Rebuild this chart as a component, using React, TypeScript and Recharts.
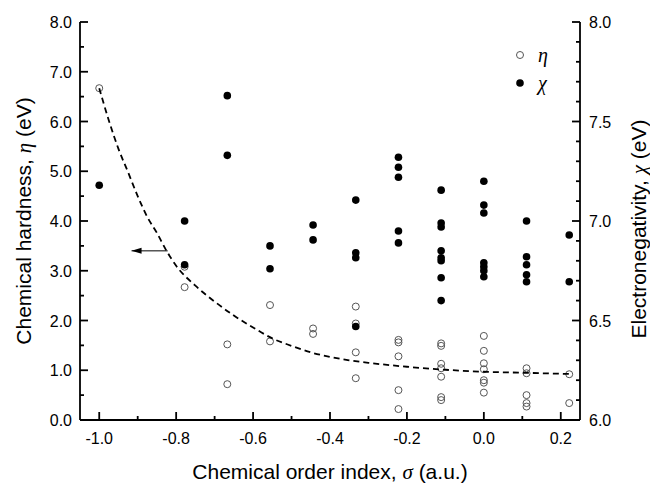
import React from "react";
import { ScatterChart, Scatter, XAxis, YAxis, ReferenceLine, ReferenceDot, Label } from "recharts";

// ---- data ----
const etaSigma = [
  -1.0,
  -0.778, -0.778,
  -0.667, -0.667,
  -0.556, -0.556,
  -0.444, -0.444,
  -0.333, -0.333, -0.333, -0.333,
  -0.222, -0.222, -0.222, -0.222, -0.222,
  -0.111, -0.111, -0.111, -0.111, -0.111, -0.111, -0.111,
  0.0, 0.0, 0.0, 0.0, 0.0, 0.0, 0.0,
  0.111, 0.111, 0.111, 0.111, 0.111,
  0.222, 0.222,
];
const etaValues = [
  6.67,
  2.67, 3.08,
  1.52, 0.72,
  2.31, 1.58,
  1.84, 1.73,
  2.28, 1.94, 1.36, 0.84,
  1.61, 1.56, 1.28, 0.6, 0.22,
  1.54, 1.49, 1.13, 1.04, 0.87, 0.46, 0.4,
  1.69, 1.39, 1.14, 1.02, 0.8, 0.75, 0.55,
  1.04, 0.94, 0.5, 0.34, 0.27,
  0.92, 0.34,
];

const chiSigma = [
  -1.0,
  -0.778, -0.778,
  -0.667, -0.667,
  -0.556, -0.556,
  -0.444, -0.444,
  -0.333, -0.333, -0.333, -0.333,
  -0.222, -0.222, -0.222, -0.222, -0.222,
  -0.111, -0.111, -0.111, -0.111, -0.111, -0.111, -0.111, -0.111,
  0.0, 0.0, 0.0, 0.0, 0.0, 0.0, 0.0,
  0.111, 0.111, 0.111, 0.111, 0.111,
  0.222, 0.222,
];
const chiValues = [
  7.18,
  7.0, 6.78,
  7.63, 7.33,
  6.875, 6.76,
  6.98, 6.905,
  7.105, 6.84, 6.815, 6.47,
  7.32, 7.27, 7.22, 6.95, 6.89,
  7.155, 6.99, 6.97, 6.85, 6.815, 6.8, 6.715, 6.6,
  7.2, 7.08, 7.04, 6.79, 6.77, 6.75, 6.72,
  7.0, 6.82, 6.78, 6.73, 6.695,
  6.93, 6.695,
];

const fitSigma = [
  -1.0, -0.975, -0.95, -0.925, -0.9, -0.875, -0.85, -0.825, -0.8, -0.75, -0.7, -0.65,
  -0.6, -0.55, -0.5, -0.45, -0.4, -0.35, -0.3, -0.2, -0.1, 0.0, 0.1, 0.222,
];
const fitEta = [
  6.67, 6.02, 5.45, 4.98, 4.5, 4.08, 3.76, 3.4, 3.1, 2.7, 2.38, 2.1,
  1.86, 1.64, 1.49, 1.36, 1.27, 1.2, 1.15, 1.07, 1.01, 0.97, 0.95, 0.925,
];

const arrowSigma = [-0.822, -0.916];
const arrowEta = 3.4;

const xTicks = [-1.0, -0.9, -0.8, -0.7, -0.6, -0.5, -0.4, -0.3, -0.2, -0.1, 0.0, 0.1, 0.2];
const etaTicks = [0, 0.5, 1, 1.5, 2, 2.5, 3, 3.5, 4, 4.5, 5, 5.5, 6, 6.5, 7, 7.5, 8];
const chiTicks = [
  6.0, 6.1, 6.2, 6.3, 6.4, 6.5, 6.6, 6.7, 6.8, 6.9, 7.0, 7.1, 7.2, 7.3, 7.4, 7.5, 7.6, 7.7, 7.8, 7.9, 8.0,
];

const etaData = etaSigma.map((x, i) => ({ x, y: etaValues[i] }));
const chiData = chiSigma.map((x, i) => ({ x, y: chiValues[i] }));
const fitData = fitSigma.map((x, i) => ({ x, y: fitEta[i] }));

// ---- styles ----
const SANS = "'Liberation Sans', Arial, Helvetica, sans-serif";
const SERIF = "'Liberation Serif', 'Times New Roman', serif";
const TICK_FS = 16;
const TITLE_FS = 21;
const MAJOR = 8;
const MINOR = 4;
const SW = 1.8;

const fmt = (v: number) => (Math.abs(v) < 1e-9 ? "0.0" : v.toFixed(1));

const BottomTick = (p: any) => {
  const v = p.payload.value;
  const major = Math.round(v * 10) % 2 === 0;
  return (
    <g>
      <line x1={p.x} x2={p.x} y1={p.y} y2={p.y - (major ? MAJOR : MINOR)} stroke="#000" strokeWidth={SW} />
      {major && (
        <text x={p.x} y={p.y + 24} textAnchor="middle" fontFamily={SANS} fontSize={TICK_FS} fill="#000">
          {fmt(v)}
        </text>
      )}
    </g>
  );
};

const TopTick = (p: any) => {
  const v = p.payload.value;
  const major = Math.round(v * 10) % 2 === 0;
  return <line x1={p.x} x2={p.x} y1={p.y} y2={p.y + (major ? MAJOR : MINOR)} stroke="#000" strokeWidth={SW} />;
};

const LeftTick = (p: any) => {
  const v = p.payload.value;
  const major = Math.abs(v - Math.round(v)) < 1e-6;
  return (
    <g>
      <line x1={p.x} x2={p.x + (major ? MAJOR : MINOR)} y1={p.y} y2={p.y} stroke="#000" strokeWidth={SW} />
      {major && (
        <text x={p.x - 8} y={p.y + 6} textAnchor="end" fontFamily={SANS} fontSize={TICK_FS} fill="#000">
          {fmt(v)}
        </text>
      )}
    </g>
  );
};

const RightTick = (p: any) => {
  const v = p.payload.value;
  const major = Math.round(v * 10) % 5 === 0;
  return (
    <g>
      <line x1={p.x} x2={p.x - (major ? MAJOR : MINOR)} y1={p.y} y2={p.y} stroke="#000" strokeWidth={SW} />
      {major && (
        <text x={p.x + 9} y={p.y + 6} textAnchor="start" fontFamily={SANS} fontSize={TICK_FS} fill="#000">
          {fmt(v)}
        </text>
      )}
    </g>
  );
};

const OpenCircle = (p: any) => <circle cx={p.cx} cy={p.cy} r={3.5} fill="none" stroke="#555" strokeWidth={1} />;
const FilledCircle = (p: any) => <circle cx={p.cx} cy={p.cy} r={3.8} fill="#000" />;
const NoShape = () => <g />;
const ArrowHead = (p: any) => (
  <path d={`M ${p.cx} ${p.cy} L ${p.cx + 10} ${p.cy - 3} L ${p.cx + 10} ${p.cy + 3} Z`} fill="#000" />
);

const LeftTitle = (props: any) => {
  const vb = props.viewBox;
  const cx = vb.x + 24;
  const cy = vb.y + vb.height / 2;
  return (
    <text
      x={cx}
      y={cy}
      dy={7}
      transform={`rotate(-90, ${cx}, ${cy})`}
      textAnchor="middle"
      fontFamily={SANS}
      fontSize={TITLE_FS}
      fill="#000"
    >
      Chemical hardness,{" "}
      <tspan fontFamily={SERIF} fontStyle="italic">η</tspan> (eV)
    </text>
  );
};

const RightTitle = (props: any) => {
  const vb = props.viewBox;
  const cx = vb.x + 59;
  const cy = vb.y + vb.height / 2 + 8;
  return (
    <text
      x={cx}
      y={cy}
      dy={7}
      transform={`rotate(-90, ${cx}, ${cy})`}
      textAnchor="middle"
      fontFamily={SANS}
      fontSize={TITLE_FS}
      fill="#000"
    >
      Electronegativity,{" "}
      <tspan fontFamily={SERIF} fontStyle="italic">χ</tspan> (eV)
    </text>
  );
};

const BottomTitle = (props: any) => {
  const vb = props.viewBox;
  return (
    <text x={vb.x + vb.width / 2} y={vb.y + 59} textAnchor="middle" fontFamily={SANS} fontSize={TITLE_FS} fill="#000">
      Chemical order index,{" "}
      <tspan fontFamily={SERIF} fontStyle="italic">σ</tspan> (a.u.)
    </text>
  );
};

const legendItems = [
  { name: "η", filled: false },
  { name: "χ", filled: true },
];

export default function App() {
  return (
    <div style={{ position: "absolute", left: 0, top: 0, width: 650, height: 483, background: "#fff" }}>
      <ScatterChart width={650} height={483} margin={{ top: 22, right: 0, bottom: 0, left: 0 }}>
        <XAxis
          xAxisId="bottom"
          dataKey="x"
          type="number"
          orientation="bottom"
          domain={[-1.05, 0.25]}
          ticks={xTicks}
          interval={0}
          allowDataOverflow
          height={63}
          tickSize={0}
          tickMargin={0}
          tickLine={false}
          axisLine={{ stroke: "#000", strokeWidth: SW }}
          tick={(p: any) => <BottomTick {...p} />}
        >
          <Label content={BottomTitle} />
        </XAxis>
        <XAxis
          xAxisId="top"
          dataKey="x"
          type="number"
          orientation="top"
          domain={[-1.05, 0.25]}
          ticks={xTicks}
          interval={0}
          allowDataOverflow
          height={0}
          tickSize={0}
          tickMargin={0}
          tickLine={false}
          axisLine={{ stroke: "#000", strokeWidth: SW }}
          tick={(p: any) => <TopTick {...p} />}
        />
        <YAxis
          yAxisId="left"
          dataKey="y"
          type="number"
          orientation="left"
          domain={[0, 8]}
          ticks={etaTicks}
          interval={0}
          allowDataOverflow
          width={80}
          tickSize={0}
          tickMargin={0}
          tickLine={false}
          axisLine={{ stroke: "#000", strokeWidth: SW }}
          tick={(p: any) => <LeftTick {...p} />}
        >
          <Label content={LeftTitle} />
        </YAxis>
        <YAxis
          yAxisId="right"
          dataKey="y"
          type="number"
          orientation="right"
          domain={[6, 8]}
          ticks={chiTicks}
          interval={0}
          allowDataOverflow
          width={70}
          tickSize={0}
          tickMargin={0}
          tickLine={false}
          axisLine={{ stroke: "#000", strokeWidth: SW }}
          tick={(p: any) => <RightTick {...p} />}
        >
          <Label content={RightTitle} />
        </YAxis>

        <Scatter
          xAxisId="top"
          yAxisId="left"
          data={fitData}
          shape={NoShape}
          isAnimationActive={false}
        />
        <Scatter
          xAxisId="bottom"
          yAxisId="left"
          data={etaData}
          shape={OpenCircle}
          isAnimationActive={false}
        />
        <Scatter
          xAxisId="bottom"
          yAxisId="left"
          data={fitData}
          shape={NoShape}
          line={{ stroke: "#000", strokeWidth: 1.8, strokeDasharray: "6 4" }}
          lineJointType="monotoneX"
          isAnimationActive={false}
        />
        <Scatter
          xAxisId="bottom"
          yAxisId="right"
          data={chiData}
          shape={FilledCircle}
          isAnimationActive={false}
        />
        <ReferenceLine
          xAxisId="bottom"
          yAxisId="left"
          segment={[
            { x: arrowSigma[0], y: arrowEta },
            { x: arrowSigma[1], y: arrowEta },
          ]}
          stroke="#000"
          strokeWidth={1}
        />
        <ReferenceDot xAxisId="bottom" yAxisId="left" x={arrowSigma[1]} y={arrowEta} shape={ArrowHead} />
      </ScatterChart>
      <div style={{ position: "absolute", left: 510, top: 41, width: 60 }}>
        {legendItems.map((it) => (
          <div key={it.name} style={{ display: "flex", alignItems: "center", height: 28 }}>
            <svg width={20} height={20} style={{ display: "block" }}>
              <circle
                cx={10}
                cy={10}
                r={it.filled ? 3.8 : 3.5}
                fill={it.filled ? "#000" : "none"}
                stroke={it.filled ? "none" : "#555"}
                strokeWidth={1}
              />
            </svg>
            <span
              style={{
                fontFamily: SERIF,
                fontStyle: "italic",
                fontSize: 20,
                marginLeft: 8,
                lineHeight: "20px",
              }}
            >
              {it.name}
            </span>
          </div>
        ))}
      </div>
    </div>
  );
}
